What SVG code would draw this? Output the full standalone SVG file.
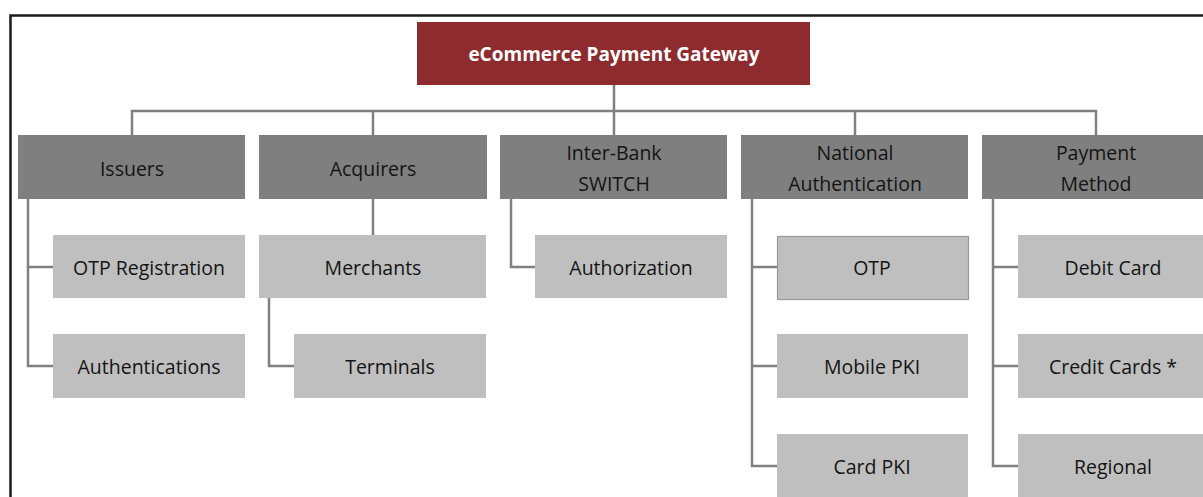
<svg xmlns="http://www.w3.org/2000/svg" width="1203" height="497" viewBox="0 0 1203 497">
  <style>
    .frame { fill: none; stroke: #1a1a1a; stroke-width: 2.5; }
    .link { fill: none; stroke: #808080; stroke-width: 2.5; }
    .root rect { fill: #8E2B2F; }
    .root text { fill: #ffffff; font-weight: bold; font-size: 19px; }
    .cat rect { fill: #7F7F7F; }
    .item rect { fill: #BFBFBF; }
    .outlined rect { stroke: #999999; stroke-width: 1.2; }
    text { font-family: "Open Sans", "Noto Sans", "Liberation Sans", sans-serif; font-size: 19.5px; fill: #141414; text-anchor: middle; dominant-baseline: central; }
  </style>

  <rect width="1203" height="497" fill="#ffffff"/>
  <!-- outer frame: top and left edges -->
  <path class="frame" d="M10.5 497 V15.5 H1203"/>

  <!-- connectors -->
  <g id="connectors" class="link">
    <path d="M614 85 V135"/>
    <path d="M132 135 V111 H1096 V135"/>
    <path d="M373 111 V135"/>
    <path d="M855 111 V135"/>
    <!-- Issuers -->
    <path d="M28 199 V366 H53 M28 267 H53"/>
    <!-- Acquirers -->
    <path d="M373 199 V235"/>
    <path d="M269 298 V366 H294"/>
    <!-- Inter-Bank SWITCH -->
    <path d="M511 199 V267 H535"/>
    <!-- National Authentication -->
    <path d="M752 199 V466 H777 M752 267 H777 M752 366 H777"/>
    <!-- Payment Method -->
    <path d="M993 199 V466 H1018 M993 267 H1018 M993 366 H1018"/>
  </g>

  <g id="root" class="root">
    <rect x="417" y="22" width="393" height="63"/>
    <text x="614" y="54">eCommerce Payment Gateway</text>
  </g>

  <g id="issuers" class="cat">
    <rect x="18" y="135" width="227" height="64"/>
    <text x="132" y="168">Issuers</text>
  </g>
  <g id="acquirers" class="cat">
    <rect x="259" y="135" width="228" height="64"/>
    <text x="373" y="168">Acquirers</text>
  </g>
  <g id="interbank" class="cat">
    <rect x="500" y="135" width="227" height="64"/>
    <text x="614" y="152">Inter-Bank</text>
    <text x="614" y="183">SWITCH</text>
  </g>
  <g id="national" class="cat">
    <rect x="741" y="135" width="227" height="64"/>
    <text x="855" y="152">National</text>
    <text x="855" y="183">Authentication</text>
  </g>
  <g id="payment" class="cat">
    <rect x="982" y="135" width="221" height="64"/>
    <text x="1096" y="152">Payment</text>
    <text x="1096" y="183">Method</text>
  </g>

  <g id="otp-registration" class="item">
    <rect x="53" y="235" width="192" height="63"/>
    <text x="149" y="267">OTP Registration</text>
  </g>
  <g id="authentications" class="item">
    <rect x="53" y="334" width="192" height="64"/>
    <text x="149" y="366">Authentications</text>
  </g>
  <g id="merchants" class="item">
    <rect x="259" y="235" width="227" height="63"/>
    <text x="373" y="267">Merchants</text>
  </g>
  <g id="terminals" class="item">
    <rect x="294" y="334" width="192" height="64"/>
    <text x="390" y="366">Terminals</text>
  </g>
  <g id="authorization" class="item">
    <rect x="535" y="235" width="192" height="63"/>
    <text x="631" y="267">Authorization</text>
  </g>
  <g id="otp" class="item outlined">
    <rect x="777.5" y="236.5" width="191" height="63"/>
    <text x="872" y="267">OTP</text>
  </g>
  <g id="mobile-pki" class="item">
    <rect x="777" y="334" width="191" height="64"/>
    <text x="872" y="366">Mobile PKI</text>
  </g>
  <g id="card-pki" class="item">
    <rect x="777" y="434" width="191" height="63"/>
    <text x="872" y="466">Card PKI</text>
  </g>
  <g id="debit-card" class="item">
    <rect x="1018" y="235" width="185" height="63"/>
    <text x="1113" y="267">Debit Card</text>
  </g>
  <g id="credit-cards" class="item">
    <rect x="1018" y="334" width="185" height="64"/>
    <text x="1113" y="366">Credit Cards *</text>
  </g>
  <g id="regional" class="item">
    <rect x="1018" y="434" width="185" height="63"/>
    <text x="1113" y="466">Regional</text>
  </g>
</svg>
